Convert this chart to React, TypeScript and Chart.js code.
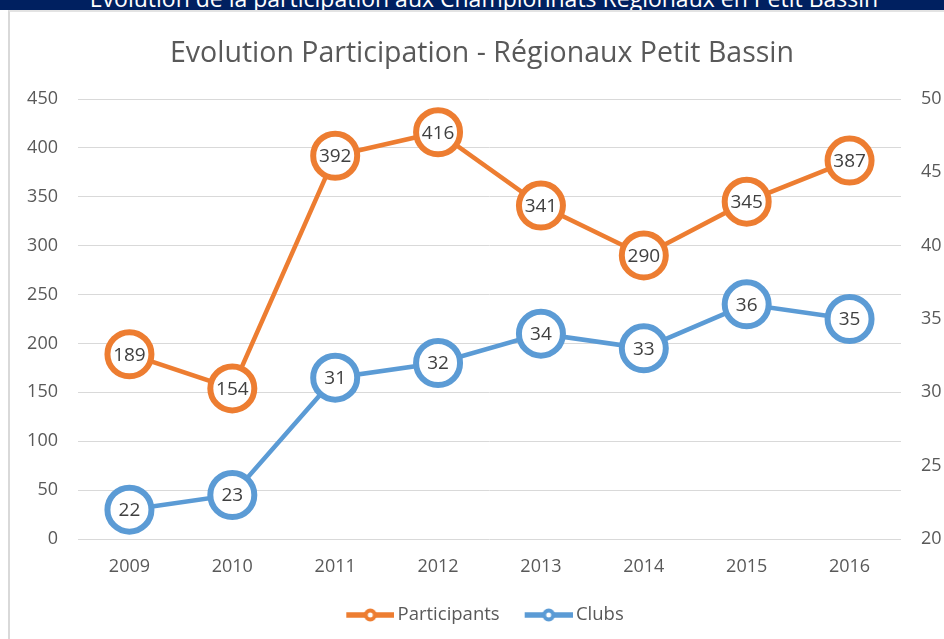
import React, { useEffect, useRef } from "react";
import { Chart, registerables } from "chart.js";

Chart.register(...registerables);

const categories = ["2009", "2010", "2011", "2012", "2013", "2014", "2015", "2016"];
const participants = [189, 154, 392, 416, 341, 290, 345, 387];
const clubs = [22, 23, 31, 32, 34, 33, 36, 35];
const leftAxis = { min: 0, max: 450, step: 50 };
const rightAxis = { min: 20, max: 50, step: 5 };

const ORANGE = "#ED7D31";
const BLUE = "#5B9BD5";
const FONT = "'Open Sans', sans-serif";

function makeLegendIcon(color: string) {
  const c = document.createElement("canvas");
  c.width = 60;
  c.height = 16;
  const g = c.getContext("2d")!;
  g.strokeStyle = color;
  g.lineWidth = 5.5;
  g.beginPath();
  g.moveTo(12, 8);
  g.lineTo(60, 8);
  g.stroke();
  g.beginPath();
  g.arc(36, 8, 4.5, 0, Math.PI * 2);
  g.fillStyle = "#fff";
  g.fill();
  g.lineWidth = 4;
  g.stroke();
  return c;
}

const centerLabels = {
  id: "centerLabels",
  afterDatasetsDraw(chart: any) {
    const ctx = chart.ctx;
    ctx.save();
    ctx.font = `19px ${FONT}`;
    ctx.fillStyle = "#404040";
    ctx.textAlign = "center";
    ctx.textBaseline = "middle";
    chart.data.datasets.forEach((ds: any, i: number) => {
      const meta = chart.getDatasetMeta(i);
      meta.data.forEach((el: any, j: number) => {
        ctx.fillText(String(ds.data[j]), el.x, el.y + 1);
      });
    });
    ctx.restore();
  },
};

export default function App() {
  const ref = useRef<HTMLCanvasElement | null>(null);

  useEffect(() => {
    if (!ref.current) return;
    Chart.defaults.font.family = FONT;
    const icons = [makeLegendIcon(ORANGE), makeLegendIcon(BLUE)];
    const chart = new Chart(ref.current, {
      type: "line",
      data: {
        labels: categories,
        datasets: [
          {
            label: "Participants",
            data: participants,
            yAxisID: "y",
            borderColor: ORANGE,
            borderWidth: 4.5,
            pointRadius: 22,
            pointHoverRadius: 22,
            pointBorderWidth: 6,
            pointHoverBorderWidth: 6,
            pointBackgroundColor: "#fff",
            pointBorderColor: ORANGE,
            clip: false as any,
          },
          {
            label: "Clubs",
            data: clubs,
            yAxisID: "y1",
            borderColor: BLUE,
            borderWidth: 4.5,
            pointRadius: 22,
            pointHoverRadius: 22,
            pointBorderWidth: 6,
            pointHoverBorderWidth: 6,
            pointBackgroundColor: "#fff",
            pointBorderColor: BLUE,
            clip: false as any,
          },
        ],
      },
      options: {
        animation: false,
        responsive: false,
        devicePixelRatio: 1,
        events: [],
        layout: { padding: { left: 8, right: 12, top: 0, bottom: 4.75 } },
        plugins: {
          tooltip: { enabled: false },
          title: {
            display: true,
            text: "Evolution Participation - Régionaux Petit Bassin",
            color: "#595959",
            font: { size: 28.5, weight: "normal" as any, family: FONT },
            padding: { top: 24.4, bottom: 28.4 },
          },
          legend: {
            position: "bottom",
            labels: {
              usePointStyle: true,
              pointStyleWidth: 48,
              padding: 19,
              color: "#595959",
              font: { size: 18.5, family: FONT },
              generateLabels: (c: any) => {
                const items = (Chart.defaults.plugins.legend.labels as any).generateLabels(c);
                items.forEach((it: any, i: number) => {
                  it.pointStyle = icons[i];
                });
                return items;
              },
            },
          },
        },
        scales: {
          x: {
            offset: true,
            grid: { display: false, drawTicks: false },
            border: { display: false },
            ticks: { color: "#595959", font: { size: 18 }, padding: 17 },
            afterFit: (a: any) => {
              a.height = 47.75;
            },
          },
          y: {
            position: "left",
            min: leftAxis.min,
            max: leftAxis.max,
            ticks: { stepSize: leftAxis.step, color: "#595959", font: { size: 18 }, padding: 20 },
            grid: { color: "#d9d9d9", lineWidth: 1, drawTicks: false },
            border: { display: false },
            afterFit: (a: any) => {
              a.width = 60;
            },
          },
          y1: {
            position: "right",
            min: rightAxis.min,
            max: rightAxis.max,
            ticks: { stepSize: rightAxis.step, color: "#595959", font: { size: 18 }, padding: 20 },
            grid: { drawOnChartArea: false, drawTicks: false },
            border: { display: false },
            afterFit: (a: any) => {
              a.width = 45;
            },
          },
        },
      },
      plugins: [centerLabels],
    });
    return () => chart.destroy();
  }, []);

  return (
    <div
      style={{
        position: "fixed",
        left: 0,
        top: 0,
        width: 944,
        height: 639,
        overflow: "hidden",
        background: "#fff",
      }}
    >
      <div
        style={{
          position: "absolute",
          left: 0,
          top: 0,
          width: 944,
          height: 10,
          background: "#002060",
          overflow: "hidden",
        }}
      >
        <div
          style={{
            position: "absolute",
            left: 12,
            width: 944,
            top: -13,
            textAlign: "center",
            color: "#fff",
            font: `23px/23px ${FONT}`,
            whiteSpace: "nowrap",
          }}
        >
          Evolution de la participation aux Championnats Régionaux en Petit Bassin
        </div>
      </div>
      <div
        style={{
          position: "absolute",
          left: 8,
          top: 10,
          right: 0,
          bottom: 0,
          borderLeft: "2px solid #d9d9d9",
          borderTop: "2px solid #e3e3e3",
        }}
      />
      <canvas
        ref={ref}
        width={948}
        height={627}
        style={{ position: "absolute", left: 10, top: 12, width: 948, height: 627 }}
      />
    </div>
  );
}
